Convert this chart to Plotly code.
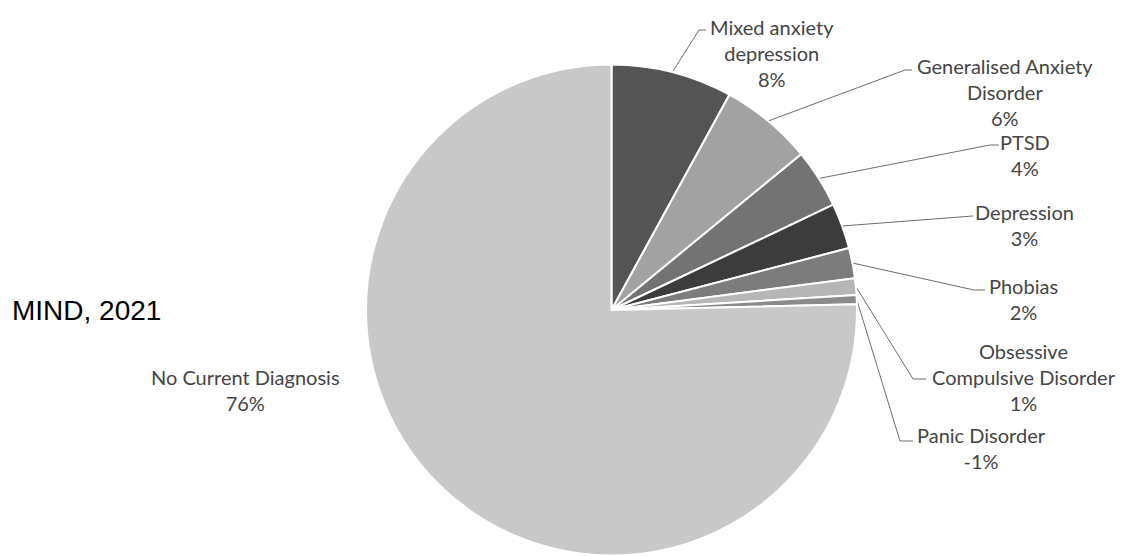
import math
import plotly.graph_objects as go

# Share of respondents by current diagnosis (percent, signed as reported)
categories = [
    "Mixed anxiety<br>depression",
    "Generalised Anxiety<br>Disorder",
    "PTSD",
    "Depression",
    "Phobias",
    "Obsessive<br>Compulsive Disorder",
    "Panic Disorder",
    "No Current Diagnosis",
]
shares = [8.0, 6.1, 3.9, 3.0, 2.0, 1.1, -0.6, 75.6]
slice_colors = ["#545454", "#a2a2a2", "#737373", "#3c3c3c",
                "#7c7c7c", "#b6b6b6", "#8a8a8a", "#c8c8c8"]

W, H = 1123, 556
CX, CY, R = 611.5, 310.0, 245.5   # pie centre and radius in pixels

# Label block centre and leader-line elbow/end (pixels); None = no leader
label_pos = [
    (772, 52.5), (1005, 91.5), (1025, 155), (1024, 224.5),
    (1023, 299), (1024, 376.5), (981, 447.5), (245, 390),
]
leader_ends = [
    ((699, 30), (706, 30)),
    ((905, 70), (912, 70)),
    ((990, 145), (999, 145)),
    ((966, 216), (973, 216)),
    ((974, 290), (985, 290)),
    ((913, 379), (926, 379)),
    ((900, 441), (913, 441)),
    None,
]

sizes = [abs(v) for v in shares]
total = sum(sizes)
texts = [f"{c}<br>{round(v):.0f}%" for c, v in zip(categories, shares)]

fig = go.Figure()
fig.add_trace(go.Pie(
    values=sizes,
    labels=[c.replace("<br>", " ") for c in categories],
    sort=False,
    direction="clockwise",
    rotation=0,
    textinfo="none",
    hoverinfo="label+percent",
    marker=dict(colors=slice_colors, line=dict(color="white", width=2)),
    domain=dict(x=[(CX - R) / W, (CX + R) / W],
                y=[(H - CY - R) / H, (H - CY + R) / H]),
    showlegend=False,
))

# Leader lines from each slice's arc midpoint to its label
cum = 0.0
for size, ends in zip(sizes, leader_ends):
    mid = (cum + size / 2) / total
    cum += size
    if ends is None:
        continue
    ang = 2 * math.pi * mid
    px = CX + R * math.sin(ang)
    py = CY - R * math.cos(ang)
    (ex, ey), (fx, fy) = ends
    fig.add_trace(go.Scatter(
        x=[px, ex, fx], y=[py, ey, fy], mode="lines",
        line=dict(color="#6e6e6e", width=1),
        hoverinfo="skip", showlegend=False,
    ))

for text, (lx, ly) in zip(texts, label_pos):
    fig.add_annotation(
        x=lx, y=ly, xref="x", yref="y", text=text, showarrow=False,
        xanchor="center", yanchor="middle", align="center",
        font=dict(family="Lato, Open Sans, sans-serif", size=20, color="#454545"),
    )

fig.add_annotation(
    x=10, y=310, xref="x", yref="y", text="MIND, 2021", showarrow=False,
    xanchor="left", yanchor="middle",
    font=dict(family="Liberation Sans, Arial, sans-serif", size=28, color="#000000"),
)

fig.update_layout(
    width=W, height=H,
    margin=dict(l=0, r=0, t=0, b=0),
    paper_bgcolor="white", plot_bgcolor="rgba(0,0,0,0)",
    xaxis=dict(range=[0, W], visible=False, fixedrange=True),
    yaxis=dict(range=[H, 0], visible=False, fixedrange=True),
)

fig.write_html("out.html")
